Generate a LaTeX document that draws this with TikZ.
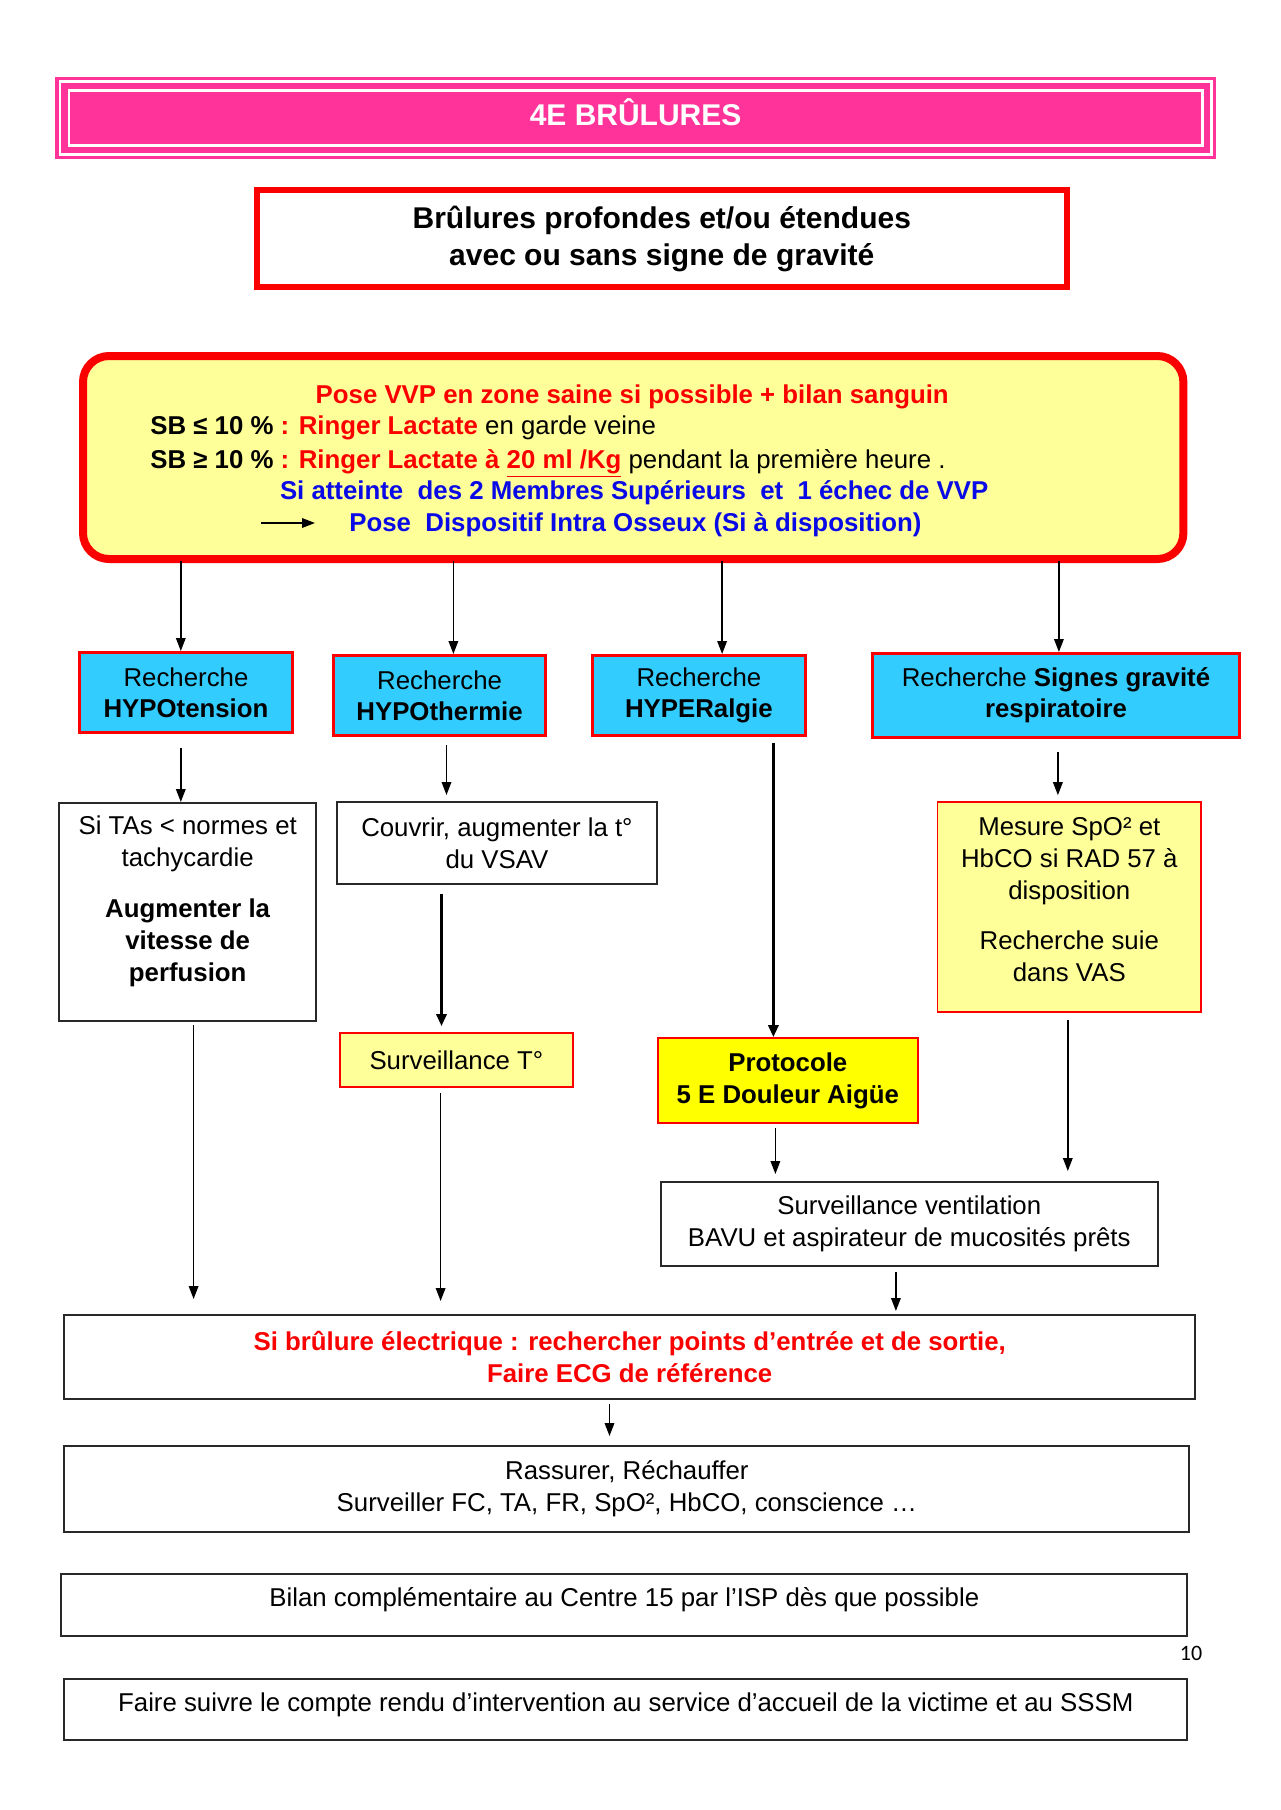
\documentclass[tikz,border=0pt]{standalone}
\usepackage{fontspec}
\setmainfont{Liberation Sans}
\newfontfamily\calfont{Carlito}
\usetikzlibrary{arrows.meta,calc}
\definecolor{tpink}{RGB}{255,51,153}
\definecolor{tred}{RGB}{250,0,0}
\definecolor{tyel}{RGB}{255,255,153}
\definecolor{tcyan}{RGB}{51,204,255}
\definecolor{tblue}{RGB}{10,10,230}
\definecolor{tdark}{RGB}{40,40,40}
\definecolor{tyellow}{RGB}{255,255,0}
\newcommand\mybody{\fontsize{12.9}{16}\selectfont}
\newcommand\mybig{\fontsize{15}{18.5}\selectfont}
\begin{document}
\begin{tikzpicture}[x=0.5pt,y=-0.5pt,
  titlebox/.style={fill=tpink, inner sep=0pt},
  redbox/.style={draw=tred, line width=3pt, fill=white, align=center, inner sep=0pt, font=\mybig\bfseries},
  mainbox/.style={draw=tred, line width=4pt, fill=tyel, rounded corners=13pt, inner sep=0pt},
  bluebox/.style={draw=tred, line width=1.5pt, fill=tcyan, align=center, inner sep=0pt, font=\fontsize{12.9}{15.5}\selectfont},
  whitebox/.style={draw=tdark, line width=1pt, fill=white, align=center, inner sep=0pt, font=\mybody},
  ylbox/.style={draw=tred, line width=0.8pt, fill=tyel, align=center, inner sep=0pt, font=\mybody},
  protobox/.style={draw=tred, line width=0.8pt, fill=tyellow, align=center, inner sep=0pt, font=\fontsize{12.9}{16}\selectfont\bfseries},
  txt/.style={inner sep=0pt, align=center, font=\mybody},
  arr/.style={draw=black, line width=0.75pt, -{Triangle[length=6.5pt,width=4.8pt]}},
  thickarr/.style={draw=black, line width=1.8pt, -{Triangle[length=6pt,width=5pt]}}
]
\useasboundingbox[fill=white] (0,0) rectangle (1280,1810);

% title
\node[titlebox, minimum width=580.3pt, minimum height=41pt] (title) at (635.6,118) {};
\draw[white, line width=1.3pt] ([shift={(5,5)}]title.north west) rectangle ([shift={(-5,-5)}]title.south east);
\draw[white, line width=1.3pt] ([shift={(14,14)}]title.north west) rectangle ([shift={(-14,-14)}]title.south east);
\node[inner sep=0pt, anchor=base, text=white, font=\fontsize{15}{18}\selectfont\bfseries] (titleT) at (635.6,125) {4E BRÛLURES};

% heading
\node[redbox, minimum width=405pt, minimum height=48.5pt] (head) at (661.8,238.5) {Brûlures profondes et/ou étendues\\avec ou sans signe de gravité};

% main box
\node[mainbox, minimum width=550.2pt, minimum height=101.5pt] (main) at (633.2,457.5) {};
\draw[tred, line width=0.8pt, rounded corners=10pt] ([shift={(6,6)}]main.north west) rectangle ([shift={(-6,-6)}]main.south east);
\node[txt, anchor=base, text=tred, font=\mybody\bfseries] (m1) at (632.2,403) {Pose VVP en zone saine si possible + bilan sanguin};
\node[txt, anchor=base west] (m2) at (150,434) {\textbf{SB ≤ 10 \%} \textcolor{tred}{\textbf{: Ringer Lactate}} en garde veine};
\node[txt, anchor=base west] (m3) at (150,468) {\textbf{SB ≥ 10 \%} \textcolor{tred}{\textbf{: Ringer Lactate à \underline{20 ml /Kg}}} pendant la première heure .};
\node[txt, anchor=base, text=tblue, font=\mybody\bfseries] (m4) at (634.2,499) {Si atteinte\ \ des 2 Membres Supérieurs\ \ et\ \ 1 échec de VVP};
\node[txt, anchor=base west, text=tblue, font=\mybody\bfseries] (m5) at (349,531) {Pose\ \ Dispositif Intra Osseux (Si à disposition)};
\coordinate (pa) at (261,523);
\coordinate (pb) at (315,523);
\draw[arr] (pa) -- (pb);

% blue boxes
\node[bluebox, minimum width=106.5pt, minimum height=40pt] (b1) at (186,692.5) {Recherche\\\textbf{HYPOtension}};
\node[bluebox, minimum width=106.2pt, minimum height=40pt] (b2) at (439.6,695.5) {Recherche\\\textbf{HYPOthermie}};
\node[bluebox, minimum width=106.7pt, minimum height=40pt] (b3) at (698.9,695.5) {Recherche\\\textbf{HYPERalgie}};
\node[bluebox, minimum width=183.2pt, minimum height=42pt] (b4) at (1056,695.5) {Recherche \textbf{Signes gravité}\\\textbf{respiratoire}};

% second level
\node[whitebox, minimum width=128.4pt, minimum height=109pt] (tas) at (187.7,912) {};
\node[txt] (tasT) at (187.7,901) {Si TAs < normes et\\tachycardie\\[9.5pt]\textbf{Augmenter la}\\\textbf{vitesse de}\\\textbf{perfusion}};
\node[whitebox, minimum width=160pt, minimum height=41pt] (couv) at (496.9,843) {Couvrir, augmenter la t°\\du VSAV};
\node[ylbox, minimum width=131.9pt, minimum height=105pt] (mes) at (1069.3,907) {};
\node[txt] (mesT) at (1069.3,899.5) {Mesure SpO² et\\HbCO si RAD 57 à\\disposition\\[9pt]Recherche suie\\dans VAS};

\node[ylbox, minimum width=116.6pt, minimum height=27pt] (survT) at (456.4,1060) {Surveillance T°};
\node[protobox, minimum width=129.9pt, minimum height=42.5pt] (proto) at (787.8,1080.5) {Protocole\\5 E Douleur Aigüe};
\node[whitebox, minimum width=248.4pt, minimum height=42pt] (vent) at (909.3,1224) {Surveillance ventilation\\BAVU et aspirateur de mucosités prêts};
\node[whitebox, minimum width=565.5pt, minimum height=42pt, text=tred, font=\mybody\bfseries] (elec) at (629.7,1357) {Si brûlure électrique : rechercher points d’entrée et de sortie,\\Faire ECG de référence};
\node[whitebox, minimum width=562.5pt, minimum height=43pt] (rass) at (626.8,1489) {Rassurer, Réchauffer\\Surveiller FC, TA, FR, SpO², HbCO, conscience …};
\node[whitebox, minimum width=563pt, minimum height=31pt] (bilan) at (624.3,1605) {};
\node[txt] (bilanT) at (624.3,1600) {Bilan complémentaire au Centre 15 par l’ISP dès que possible};
\node[whitebox, minimum width=561.6pt, minimum height=30.5pt] (faire) at (625.8,1709.5) {};
\node[txt] (faireT) at (625.8,1705) {Faire suivre le compte rendu d’intervention au service d’accueil de la victime et au SSSM};
\node[inner sep=0pt, font=\calfont\fontsize{11}{13}\selectfont] (pg) at (1191,1653) {10};

% arrow columns
\coordinate (c1) at (180.8,0);
\coordinate (c2) at (453.4,0);
\coordinate (c3) at (722.1,0);
\coordinate (c4) at (1058.9,0);
\coordinate (d2) at (446.5,0);
\coordinate (d3) at (773.4,0);
\coordinate (d4) at (1057.9,0);
\coordinate (e1) at (193.6,0);
\coordinate (e2) at (441.5,0);
\coordinate (e3) at (440.6,0);
\coordinate (f1) at (775.4,0);
\coordinate (f2) at (1067.8,0);
\coordinate (g1) at (895.9,0);
\coordinate (h1) at (609.5,0);

\draw[arr] ($(main.south -| c1)+(0,-2)$) -- (b1.north -| c1);
\draw[arr] ($(main.south -| c2)+(0,-2)$) -- (b2.north -| c2);
\draw[arr] ($(main.south -| c3)+(0,-2)$) -- (b3.north -| c3);
\draw[arr] ($(main.south -| c4)+(0,-2)$) -- (b4.north -| c4);

\draw[arr] ($(b1.south -| c1)+(0,14)$) -- (tas.north -| c1);
\draw[arr] ($(b2.south -| d2)+(0,8)$) -- ($(couv.north -| d2)+(0,-6)$);
\draw[thickarr] ($(b3.south -| d3)+(0,6)$) -- (proto.north -| d3);
\draw[arr] ($(b4.south -| d4)+(0,13)$) -- ($(mes.north -| d4)+(0,-6)$);
\draw[thickarr] ($(couv.south -| e2)+(0,9)$) -- ($(survT.north -| e2)+(0,-6)$);
\draw[arr] ($(tas.south -| e1)+(0,3)$) -- ($(elec.north -| e1)+(0,-15)$);
\draw[arr] ($(survT.south -| e3)+(0,5)$) -- ($(elec.north -| e3)+(0,-13)$);
\draw[arr] ($(proto.south -| f1)+(0,4)$) -- ($(vent.north -| f1)+(0,-7)$);
\draw[arr] ($(mes.south -| f2)+(0,7)$) -- ($(vent.north -| f2)+(0,-10)$);
\draw[arr] ($(vent.south -| g1)+(0,5)$) -- ($(elec.north -| g1)+(0,-3)$);
\draw[arr] ($(elec.south -| h1)+(0,4)$) -- ($(rass.north -| h1)+(0,-9)$);
\end{tikzpicture}
\end{document}
